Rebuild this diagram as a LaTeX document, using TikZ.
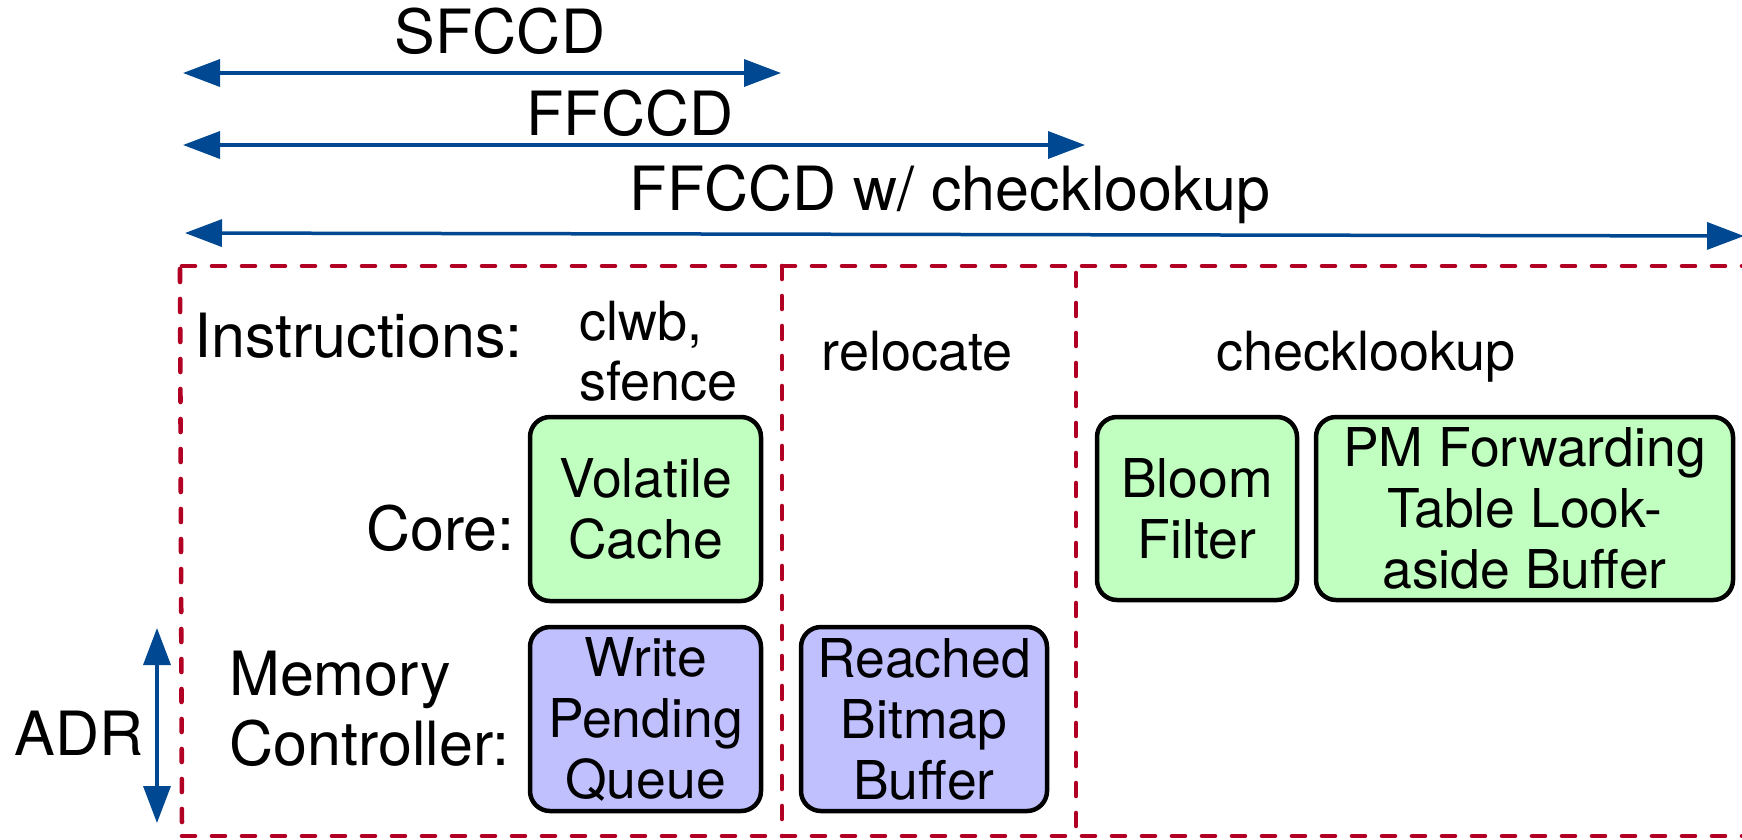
\documentclass[tikz,border=0pt]{standalone}
\usepackage{fontspec}
\setmainfont{TeX Gyre Heros}
\usetikzlibrary{arrows.meta}
\definecolor{adrblue}{RGB}{0,72,145}
\definecolor{dashred}{RGB}{178,0,36}
\definecolor{boxgreen}{RGB}{192,255,192}
\definecolor{boxblue}{RGB}{192,192,255}
\tikzset{
  biglbl/.style={font=\fontsize{61}{70}\selectfont, inner sep=0pt},
  smalllbl/.style={font=\fontsize{54}{60}\selectfont, inner sep=0pt},
  hwbox/.style={draw=black, line width=4.5pt, rounded corners=20pt, align=center,
    font=\fontsize{53.5}{61}\selectfont, inner sep=0pt},
  greenbox/.style={hwbox, fill=boxgreen},
  bluebox/.style={hwbox, fill=boxblue},
  dimarrow/.style={adrblue, line width=3.5pt,
    {Triangle[length=37pt,width=27pt]}-{Triangle[length=37pt,width=27pt]}},
  reddash/.style={dashred, line width=4.6pt, line cap=round, dash pattern=on 13pt off 17pt}
}
\begin{document}
\begin{tikzpicture}[x=1pt,y=-1pt]
\useasboundingbox (0,0) rectangle (1742,839);
\clip (0,0) rectangle (1742,839);

% scope arrows
\coordinate (s1) at (183,73);  \coordinate (s2) at (781,73);
\coordinate (f1) at (183,145); \coordinate (f2) at (1085,145);
\coordinate (c1) at (185,233); \coordinate (c2) at (1744,236);
\draw[dimarrow] (s1) -- (s2);
\draw[dimarrow] (f1) -- (f2);
\draw[dimarrow] (c1) -- (c2);
\node[biglbl, anchor=base] (sfccd) at (500,53) {SFCCD};
\node[biglbl, anchor=base] (ffccd) at (630,135) {FFCCD};
\node[biglbl, anchor=base] (ffccdcl) at (950,210) {FFCCD w/ checklookup};

% dashed frame
\coordinate (tl) at (182,266); \coordinate (tr) at (1770,266);
\coordinate (bl) at (182,836); \coordinate (br) at (1770,836);
\coordinate (lt) at (180,269);
\coordinate (d1t) at (782,266); \coordinate (d1b) at (782,836);
\coordinate (d2t) at (1076,273); \coordinate (d2b) at (1076,836);
\draw[reddash] (tl) -- (tr);
\draw[reddash] (bl) -- (br);
\draw[reddash] (lt) -- (bl);
\draw[reddash] (d1t) -- (d1b);
\draw[reddash] (d2t) -- (d2b);

% row labels
\node[biglbl, anchor=base west] (instr) at (194,357) {Instructions:};
\node[biglbl, anchor=base east] (core) at (515,550) {Core:};
\node[biglbl, anchor=base west] (mem) at (229,695) {Memory};
\node[biglbl, anchor=base west] (ctrl) at (229,765) {Controller:};

% instruction names
\node[smalllbl, anchor=base west] (clwb) at (579,340) {clwb,};
\node[smalllbl, anchor=base west] (sfence) at (579,400) {sfence};
\node[smalllbl, anchor=base] (reloc) at (917,370) {relocate};
\node[smalllbl, anchor=base] (chk) at (1366,370) {checklookup};

% hardware boxes
\node[greenbox, minimum width=231pt, minimum height=184pt] (vc) at (645.5,509) {Volatile\\Cache};
\node[bluebox, minimum width=231pt, minimum height=184pt] (wpq) at (645.5,719) {Write\\Pending\\Queue};
\node[bluebox, minimum width=246pt, minimum height=184pt] (rbb) at (924,719) {Reached\\Bitmap\\Buffer};
\node[greenbox, minimum width=200pt, minimum height=183pt] (bf) at (1197,508.5) {Bloom\\Filter};
\node[greenbox, minimum width=417pt, minimum height=183pt] (pmf) at (1524.5,508.5) {PM Forwarding\\Table Look-\\aside Buffer};

% ADR
\coordinate (a1) at (157,628); \coordinate (a2) at (157,823);
\draw[dimarrow] (a1) -- (a2);
\node[biglbl, anchor=base] (adr) at (79,755) {ADR};
\end{tikzpicture}
\end{document}
